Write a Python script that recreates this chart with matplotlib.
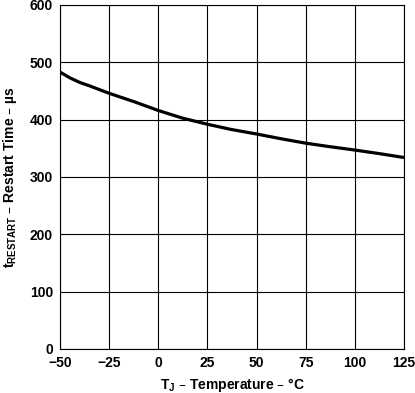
import matplotlib
matplotlib.use("Agg")
import matplotlib.pyplot as plt

# curve
temp_c = [-50, -45, -40, -35, -25, -12, 0, 12, 25, 37, 50, 62, 75, 87, 100, 112, 125]
t_restart_us = [483, 473, 465, 459, 446, 431, 416, 403, 392, 383, 375, 367, 359, 353, 347, 341, 334]

x_ticks = [-50, -25, 0, 25, 50, 75, 100, 125]
y_ticks = [0, 100, 200, 300, 400, 500, 600]

plt.rcParams['font.family'] = ['Liberation Sans', 'DejaVu Sans']
plt.rcParams['font.weight'] = 'bold'
plt.rcParams['mathtext.default'] = 'regular'

fig = plt.figure(figsize=(4.15, 3.93), dpi=100)
ax = fig.add_axes([60 / 415, 44 / 393, 344 / 415, 344 / 393])

ax.plot(temp_c, t_restart_us, color="black", linewidth=2.3, solid_capstyle="butt")

ax.set_xlim(-50, 125)
ax.set_ylim(0, 600)
ax.set_xticks(x_ticks)
ax.set_yticks(y_ticks)
ax.grid(True, color="black", linewidth=0.8)
ax.tick_params(length=0, labelsize=10, pad=5)
for lbl in ax.get_xticklabels() + ax.get_yticklabels():
    lbl.set_fontweight("bold")
for s in ax.spines.values():
    s.set_linewidth(0.8)

ax.set_xlabel("T$_{J}$ \u2013 Temperature \u2013 \u00b0C", fontsize=10, fontweight="bold", labelpad=4)
ax.set_ylabel("t$_{RESTART}$ \u2013 Restart Time \u2013 \u00b5s", fontsize=10, fontweight="bold", labelpad=8)

fig.savefig("out.png", dpi=100)
